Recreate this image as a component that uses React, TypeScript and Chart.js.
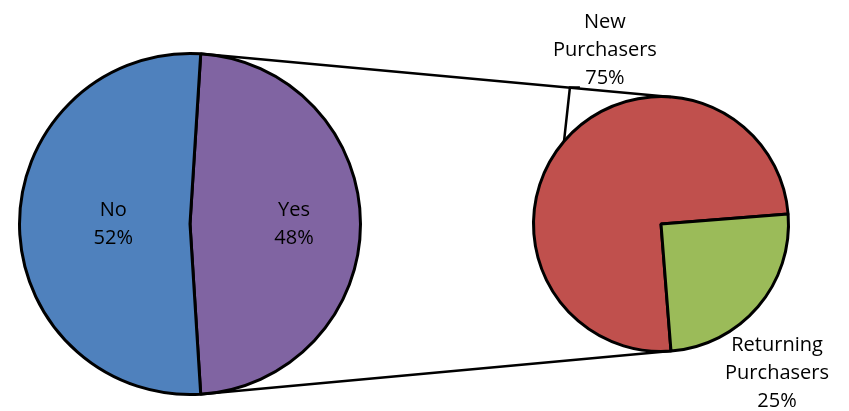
import React, { useEffect, useRef } from "react";
import { Chart, registerables } from "chart.js";
Chart.register(...registerables);

const mainLabels = ["Yes", "No"];
const mainValues = [48, 52];
const mainColors = ["#8064A2", "#4F81BD"];
const subLabels = ["New\nPurchasers", "Returning\nPurchasers"];
const subValues = [75, 25];
const subColors = ["#C0504D", "#9BBB59"];

const W = 849;
const H = 411;
const FONT = '20px "Open Sans"';
const LINE_H = 28;

function drawLines(ctx: CanvasRenderingContext2D, lines: string[], x: number, y: number) {
  ctx.save();
  ctx.font = FONT;
  ctx.fillStyle = "#000";
  ctx.textAlign = "center";
  ctx.textBaseline = "middle";
  const top = y - ((lines.length - 1) * LINE_H) / 2;
  lines.forEach((l, i) => ctx.fillText(l, x, top + i * LINE_H));
  ctx.restore();
}

function pct(values: number[], i: number) {
  const t = values.reduce((a, b) => a + b, 0);
  return Math.round((values[i] / t) * 100) + "%";
}

export default function App() {
  const c1 = useRef<HTMLCanvasElement>(null);
  const c2 = useRef<HTMLCanvasElement>(null);

  useEffect(() => {
    // label distance along mid-angle (fraction of radius) for main pie
    const mainFactor = [0.61, 0.45];
    // label offsets for sub pie (fraction of radius)
    const subOffset = [
      [-0.44, -1.36],
      [0.91, 1.17],
    ];

    const mainPlugin = {
      id: "mainLabels",
      afterDatasetsDraw(chart: any) {
        const ctx = chart.ctx;
        const meta = chart.getDatasetMeta(0);
        meta.data.forEach((arc: any, i: number) => {
          const mid = (arc.startAngle + arc.endAngle) / 2;
          const r = arc.outerRadius * mainFactor[i];
          const x = arc.x + Math.cos(mid) * r;
          const y = arc.y + Math.sin(mid) * r;
          drawLines(ctx, [...mainLabels[i].split("\n"), pct(mainValues, i)], x, y);
        });
      },
    };

    const ch1 = new Chart(c1.current as HTMLCanvasElement, {
      type: "pie",
      data: {
        labels: mainLabels,
        datasets: [
          {
            data: mainValues,
            backgroundColor: mainColors,
            borderColor: "#000",
            borderWidth: 3,
          },
        ],
      },
      options: {
        responsive: false,
        animation: false,
        devicePixelRatio: 1,
        rotation: 3.6,
        layout: { padding: { left: 18, top: 52, right: 487, bottom: 15 } },
        plugins: { legend: { display: false }, tooltip: { enabled: false } },
      },
      plugins: [mainPlugin],
    } as any);

    const subPlugin = {
      id: "subLabels",
      afterDatasetsDraw(chart: any) {
        const ctx = chart.ctx;
        const meta = chart.getDatasetMeta(0);
        meta.data.forEach((arc: any, i: number) => {
          const x = arc.x + subOffset[i][0] * arc.outerRadius;
          const y = arc.y + subOffset[i][1] * arc.outerRadius;
          drawLines(ctx, [...subLabels[i].split("\n"), pct(subValues, i)], x, y);
          if (i === 0) {
            const mid = (arc.startAngle + arc.endAngle) / 2;
            const ex = arc.x + Math.cos(mid) * arc.outerRadius;
            const ey = arc.y + Math.sin(mid) * arc.outerRadius;
            ctx.save();
            ctx.strokeStyle = "#000";
            ctx.lineWidth = 2.5;
            ctx.beginPath();
            ctx.moveTo(ex, ey);
            ctx.lineTo(x - 35, y + 37);
            ctx.lineTo(x - 25, y + 37);
            ctx.stroke();
            ctx.restore();
          }
        });
        // connector lines from the main pie's Yes slice to the sub pie
        const m1 = ch1.getDatasetMeta(0).data[0] as any;
        const g = meta.data[1];
        const e = g.endAngle;
        const bx = g.x + Math.cos(e) * g.outerRadius;
        const by = g.y + Math.sin(e) * g.outerRadius;
        const tx = bx;
        const ty = g.y - Math.sin(e) * g.outerRadius;
        const sx1 = m1.x + Math.cos(m1.startAngle) * m1.outerRadius;
        const sy1 = m1.y + Math.sin(m1.startAngle) * m1.outerRadius;
        const sx2 = m1.x + Math.cos(m1.endAngle) * m1.outerRadius;
        const sy2 = m1.y + Math.sin(m1.endAngle) * m1.outerRadius;
        ctx.save();
        ctx.strokeStyle = "#000";
        ctx.lineWidth = 2.5;
        ctx.beginPath();
        ctx.moveTo(sx1, sy1);
        ctx.lineTo(tx, ty);
        ctx.moveTo(sx2, sy2);
        ctx.lineTo(bx, by);
        ctx.stroke();
        ctx.restore();
      },
    };

    const ch2 = new Chart(c2.current as HTMLCanvasElement, {
      type: "pie",
      data: {
        labels: subLabels,
        datasets: [
          {
            data: subValues,
            backgroundColor: subColors,
            borderColor: "#000",
            borderWidth: 3,
          },
        ],
      },
      options: {
        responsive: false,
        animation: false,
        devicePixelRatio: 1,
        rotation: 175.5,
        layout: { padding: { left: 532, top: 95, right: 59, bottom: 58 } },
        plugins: { legend: { display: false }, tooltip: { enabled: false } },
      },
      plugins: [subPlugin],
    } as any);

    return () => {
      ch2.destroy();
      ch1.destroy();
    };
  }, []);

  return (
    <div style={{ position: "fixed", left: 0, top: 0, width: W, height: H, background: "#fff" }}>
      <canvas ref={c1} width={W} height={H} style={{ position: "absolute", left: 0, top: 0 }} />
      <canvas ref={c2} width={W} height={H} style={{ position: "absolute", left: 0, top: 0 }} />
    </div>
  );
}
